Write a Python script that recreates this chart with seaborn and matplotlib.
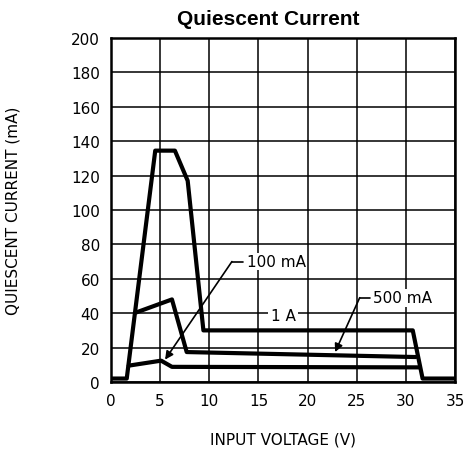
import numpy as np
import pandas as pd
import seaborn as sns
import matplotlib
matplotlib.use("Agg")
import matplotlib.pyplot as plt

# Curves (input voltage V, quiescent current mA)
v_1a = [0, 1.6, 4.5, 6.5, 7.8, 9.4, 30.7, 31.7, 35]
i_1a = [2, 2, 134.5, 134.5, 117, 30, 30, 2, 2]

v_500ma = [2.6, 6.2, 7.7, 31.0]
i_500ma = [40.5, 48, 17.4, 14.5]

v_100ma = [1.8, 5.1, 6.2, 31.4]
i_100ma = [9.5, 12.4, 8.8, 8.5]

x_ticks = [0, 5, 10, 15, 20, 25, 30, 35]
y_ticks = [0, 20, 40, 60, 80, 100, 120, 140, 160, 180, 200]


def main():
    sns.set_theme(style="white")
    plt.rcParams['font.family'] = ['DejaVu Sans']
    plt.rcParams['text.color'] = 'black'
    plt.rcParams['axes.labelcolor'] = 'black'

    fig = plt.figure(figsize=(4.69, 4.64), dpi=100)
    ax = fig.add_axes([0.2367, 0.1746, 0.7335, 0.7414])

    frames = []
    for name, v, i in [("1 A", v_1a, i_1a), ("500 mA", v_500ma, i_500ma),
                       ("100 mA", v_100ma, i_100ma)]:
        frames.append(pd.DataFrame({"V": v, "I": i, "load": name}))
    df = pd.concat(frames, ignore_index=True)

    sns.lineplot(data=df, x="V", y="I", units="load", estimator=None, sort=False,
                 color="black", linewidth=3.0, ax=ax, legend=False, zorder=3)

    ax.set_xlim(0, 35)
    ax.set_ylim(0, 200)
    ax.set_xticks(x_ticks)
    ax.set_yticks(y_ticks)
    ax.grid(True, color="black", linewidth=1.1)
    for s in ax.spines.values():
        s.set_color("black")
        s.set_linewidth(1.8)
    ax.tick_params(length=0, labelsize=11, pad=8, colors="black")

    ax.set_xlabel("INPUT VOLTAGE (V)", fontsize=11, labelpad=17)
    ax.set_ylabel("QUIESCENT CURRENT (mA)", fontsize=11, labelpad=36)
    # title sits a bit left of the axes centre in the original
    fig.text(0.571, 0.958, "Quiescent Current", fontsize=15, fontweight="bold",
             family="Liberation Sans", ha="center", va="center", color="black")

    # annotations with leader lines
    ax.plot([12.3, 13.4], [70, 70], color="black", linewidth=1.2, zorder=4)
    ax.annotate("", xy=(5.5, 13), xytext=(12.3, 70),
                arrowprops=dict(arrowstyle="-|>", color="black", lw=1.2,
                                shrinkA=0, shrinkB=0, mutation_scale=12), zorder=4)
    ax.text(13.8, 70, "100 mA", fontsize=11, va="center", ha="left",
            bbox=dict(facecolor="white", edgecolor="none", pad=1), zorder=5)

    ax.plot([25.3, 26.3], [49, 49], color="black", linewidth=1.2, zorder=4)
    ax.annotate("", xy=(22.8, 17.4), xytext=(25.3, 49),
                arrowprops=dict(arrowstyle="-|>", color="black", lw=1.2,
                                shrinkA=0, shrinkB=0, mutation_scale=12), zorder=4)
    ax.text(26.7, 49, "500 mA", fontsize=11, va="center", ha="left",
            bbox=dict(facecolor="white", edgecolor="none", pad=1), zorder=5)

    ax.text(17.5, 38.5, "1 A", fontsize=11, va="center", ha="center",
            bbox=dict(facecolor="white", edgecolor="none", pad=2), zorder=5)

    fig.savefig("out.png", dpi=100)


if __name__ == "__main__":
    main()
